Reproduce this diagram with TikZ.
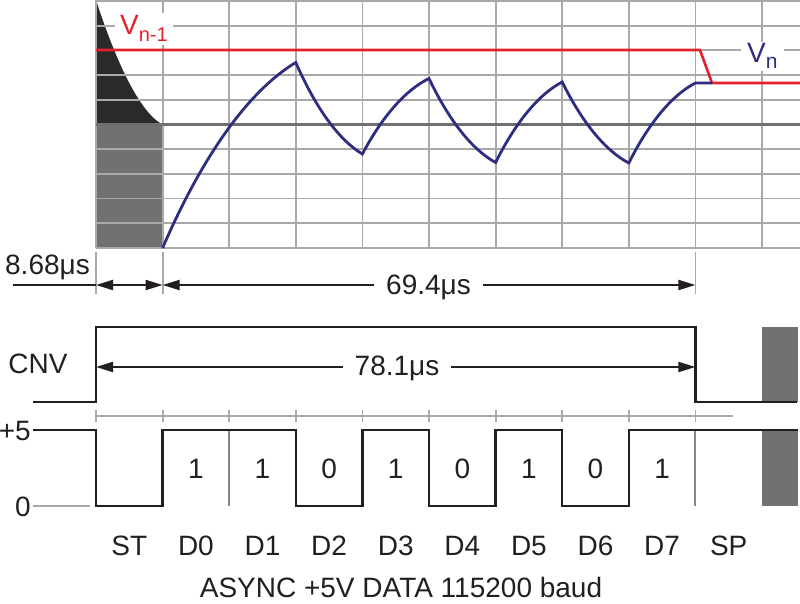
\documentclass[tikz,border=0pt]{standalone}
\usepackage{fontspec}
\setmainfont{Liberation Sans}
\usetikzlibrary{arrows.meta}
\definecolor{gridc}{HTML}{A9A9A9}
\definecolor{darkc}{HTML}{6F6F6F}
\definecolor{inkc}{HTML}{231F20}
\definecolor{redc}{HTML}{E3212B}
\definecolor{navyc}{HTML}{2E2D7F}
\definecolor{blackfill}{HTML}{2B2A29}
\definecolor{grayfill}{HTML}{717171}
\begin{document}
\begin{tikzpicture}[x=1pt,y=-1pt,
  gridline/.style={draw=gridc,line width=1.8pt},
  midline/.style={draw=darkc,line width=2.2pt},
  sig/.style={draw=inkc,line width=2.3pt,line join=miter},
  dim/.style={draw=inkc,line width=2pt},
  tipboth/.style={{Triangle[length=17pt,width=10pt]}-{Triangle[length=17pt,width=10pt]}},
  txt/.style={text=inkc,font=\fontsize{28}{32}\selectfont,inner sep=0pt},
  redtrace/.style={draw=redc,line width=2.6pt,line join=miter},
  bluetrace/.style={draw=navyc,line width=2.8pt,line join=miter},
  sep/.style={draw=gridc!80!black,line width=2pt}]
\useasboundingbox (0,0) rectangle (800,604);

% fills in the plot area
\fill[blackfill] (96,0) .. controls (116,62) and (140,113) .. (162.6,124.5) -- (96,124.5) -- cycle;
\fill[grayfill] (96,124.5) rectangle (162.6,248);

% grid
\foreach \i in {0,...,10} \draw[gridline] ({96+66.6*\i},0) -- ({96+66.6*\i},248);
\foreach \j in {0,...,10} \draw[gridline] (96,{1+24.7*\j}) -- (800,{1+24.7*\j});
\draw[midline] (96,124.5) -- (800,124.5);

% red reference
\draw[redtrace] (96,50) -- (700,50) -- (712,83) -- (800,83);

% blue trace
\draw[bluetrace] (162.6,248) .. controls (202.6,155.25) and (249.2,90.3) .. (295.8,62.5)
  .. controls (315.8,108.25) and (339.1,140.3) .. (362.4,154)
  .. controls (382.4,116.25) and (405.7,89.8) .. (429,78.5)
  .. controls (449,120.5) and (472.3,149.9) .. (495.6,162.5)
  .. controls (515.6,122.25) and (538.9,94.1) .. (562.2,82)
  .. controls (582.2,122.5) and (605.5,150.9) .. (628.8,163)
  .. controls (648.8,123) and (672.1,95) .. (695.4,83) -- (712,83);

% trace labels
\node[anchor=base west, fill=white, inner xsep=5pt, inner ysep=3pt, text=redc,
  font=\fontsize{28}{32}\selectfont] (vnm1) at (115,35)
  {V\raisebox{-7pt}{\fontsize{20}{22}\selectfont n-1}};
\node[anchor=base west, fill=white, inner xsep=6pt, inner ysep=2pt, text=navyc,
  font=\fontsize{28}{32}\selectfont] (vn) at (741,63)
  {V\raisebox{-6pt}{\fontsize{21}{22}\selectfont n}};

% dimension lines
\foreach \x/\n in {96/ta,162.6/tb,695.4/tc} {
  \coordinate (\n top) at (\x,252);
  \coordinate (\n bot) at (\x,294);
  \draw[gridline] (\n top) -- (\n bot);
}
\coordinate (dl) at (13,285);
\coordinate (d0) at (96,285);
\coordinate (d1) at (162.6,285);
\coordinate (d2) at (695.4,285);
\draw[dim] (dl) -- (d0);
\draw[dim,tipboth] (d0) -- (d1);
\draw[dim,tipboth] (d1) -- (d2);
\node[txt, anchor=base east] (t868) at (90,274) {8.68μs};
\node[txt, anchor=base, fill=white, inner xsep=12pt, inner ysep=3pt] (t694) at (428.5,294.5) {69.4μs};

% CNV signal
\fill[grayfill] (762,327) rectangle (798,402);
\draw[sig] (33,402) -- (96,402) -- (96,327) -- (695.4,327) -- (695.4,402) -- (797,402);
\node[txt, anchor=base] (cnv) at (38,373) {CNV};
\coordinate (c0) at (96,367);
\coordinate (c1) at (695.4,367);
\draw[dim,tipboth] (c0) -- (c1);
\node[txt, anchor=base, fill=white, inner xsep=12pt, inner ysep=3pt] (t781) at (397,375) {78.1μs};

% bit tick ruler
\draw[gridline] (96,416) -- (733,416);
\foreach \i in {0,...,9} \draw[gridline] ({96+66.6*\i},410) -- ({96+66.6*\i},422);

% data signal
\fill[grayfill] (762,430) rectangle (798,506);
\draw[gridline] (33,506) -- (90,506);
\draw[sep] (229.2,430) -- (229.2,506);
\draw[sep] (695.4,430) -- (695.4,506);
\draw[sig] (33,430) -- (96,430) -- (96,506) -- (162.6,506) -- (162.6,430) -- (295.8,430)
  -- (295.8,506) -- (362.4,506) -- (362.4,430) -- (429,430) -- (429,506) -- (495.6,506)
  -- (495.6,430) -- (562.2,430) -- (562.2,506) -- (628.8,506) -- (628.8,430) -- (798,430);
\node[txt, anchor=base east] (p5) at (31,440) {+5};
\node[txt, anchor=base east] (z0) at (31,516) {0};

% bit values
\foreach \v [count=\k] in {1,1,0,1,0,1,0,1}
  \node[txt, anchor=base] (bit\k) at ({96+66.6*(\k+0.5)},478) {\v};

% bit names
\foreach \s [count=\k from 0] in {ST,D0,D1,D2,D3,D4,D5,D6,D7,SP}
  \node[txt, anchor=base] (name\k) at ({96+66.6*(\k+0.5)},555) {\s};

\node[txt, anchor=base] (caption) at (401,597) {ASYNC +5V DATA 115200 baud};
\end{tikzpicture}
\end{document}
